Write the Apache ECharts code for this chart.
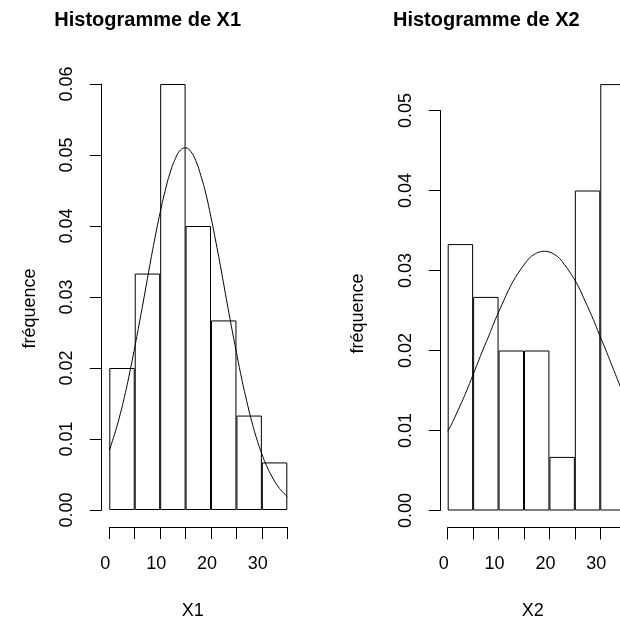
<!DOCTYPE html>
<html>
<head>
<meta charset="utf-8">
<script src="https://cdn.jsdelivr.net/npm/echarts@6/dist/echarts.min.js"></script>
<style>
html,body{margin:0;padding:0;background:#fff;}
#chart{width:620px;height:622px;}
</style>
</head>
<body>
<div id="chart"></div>
<script>
// ---- data ----
const bins = ['0-5', '5-10', '10-15', '15-20', '20-25', '25-30', '30-35'];
const x1Density = [0.0200, 0.0333, 0.0600, 0.0400, 0.0267, 0.0133, 0.0067];
const x2Density = [0.0333, 0.0267, 0.0200, 0.0200, 0.0067, 0.0400, 0.0533];
const curveX = [0,1,2,3,4,5,6,7,8,9,10,11,12,13,14,15,16,17,18,19,20,21,22,23,24,25,26,27,28,29,30,31,32,33,34,35];
const x1Curve = [0.0084,0.0106,0.0131,0.0160,0.0193,0.0229,0.0267,0.0306,0.0346,0.0384,0.0419,0.0450,0.0476,0.0495,0.0507,0.0510,0.0505,0.0492,0.0471,0.0445,0.0412,0.0376,0.0338,0.0298,0.0259,0.0222,0.0186,0.0154,0.0125,0.0100,0.0079,0.0061,0.0047,0.0035,0.0026,0.0019];
const x2Curve = [0.0099,0.0111,0.0125,0.0139,0.0154,0.0170,0.0186,0.0202,0.0217,0.0233,0.0248,0.0262,0.0276,0.0288,0.0298,0.0307,0.0315,0.0320,0.0323,0.0324,0.0323,0.0320,0.0315,0.0307,0.0298,0.0288,0.0276,0.0262,0.0248,0.0233,0.0217,0.0202,0.0186,0.0170,0.0154,0.0139];
const xTickLabels = [0, 10, 20, 30];
const titles = ['Histogramme de X1', 'Histogramme de X2'];
const xNames = ['X1', 'X2'];
const yName = 'fréquence';

const FONT = '"Liberation Sans", Arial, Helvetica, sans-serif';
const black = '#000';

function pairs(xs, ys) { return xs.map((x, i) => [x, ys[i]]); }

const chart = echarts.init(document.getElementById('chart'), null, {renderer: 'canvas'});

function valueX(grid, namePad) {
  return {
    type: 'value', gridIndex: grid, position: 'bottom', min: 0, max: 35, interval: 5,
    offset: 17,
    axisLine: {show: true, onZero: false, lineStyle: {color: black, width: 1}},
    axisTick: {show: true, length: 12, lineStyle: {color: black, width: 1}},
    splitLine: {show: false},
    axisLabel: {
      show: true, margin: 28, fontSize: 18, lineHeight: 18, color: black, fontFamily: FONT,
      padding: [0, 8, 0, 0], showMaxLabel: true, showMinLabel: true,
      formatter: v => xTickLabels.indexOf(v) >= 0 ? String(v) : ''
    },
    name: xNames[grid], nameLocation: 'middle', nameGap: 75,
    nameTextStyle: {fontSize: 18, lineHeight: 18, color: black, fontFamily: FONT, padding: [0, namePad, 0, 0]}
  };
}
function catX(grid) {
  return {type: 'category', gridIndex: grid, position: 'bottom', data: bins, show: false, boundaryGap: true};
}
function valueY(grid, max, offset, nameGap, namePadR) {
  return {
    type: 'value', gridIndex: grid, min: 0, max: max, interval: 0.01, offset: offset,
    axisLine: {show: true, onZero: false, lineStyle: {color: black, width: 1}},
    axisTick: {show: true, length: 12, lineStyle: {color: black, width: 1}},
    splitLine: {show: false},
    axisLabel: {
      rotate: 90, margin: 26, fontSize: 18, lineHeight: 18, color: black, fontFamily: FONT,
      formatter: v => v.toFixed(2)
    },
    name: yName, nameLocation: 'middle', nameGap: nameGap, nameRotate: 90,
    nameTextStyle: {fontSize: 18, lineHeight: 18, color: black, fontFamily: FONT, padding: [0, namePadR, 0, 0]}
  };
}

const option = {
  backgroundColor: '#fff',
  animation: false,
  title: [
    {text: titles[0], left: 147.7, top: 10, textAlign: 'center', padding: 0,
     textStyle: {fontSize: 20, lineHeight: 20, fontWeight: 'bold', color: black, fontFamily: FONT}},
    {text: titles[1], left: 486.3, top: 10, textAlign: 'center', padding: 0,
     textStyle: {fontSize: 20, lineHeight: 20, fontWeight: 'bold', color: black, fontFamily: FONT}}
  ],
  grid: [
    {left: 109.3, top: 84, width: 178, height: 426, containLabel: false, outerBoundsMode: 'none'},
    {left: 447.7, top: 110.5, width: 178, height: 400, containLabel: false, outerBoundsMode: 'none'}
  ],
  xAxis: [catX(0), valueX(0, 11), catX(1), valueX(1, 8)],
  yAxis: [valueY(0, 0.06, 7.6, 63, 23), valueY(1, 0.05, 7, 74, 6)],
  series: [
    {type: 'bar', xAxisIndex: 0, yAxisIndex: 0, data: x1Density, barWidth: '100%', clip: false,
     itemStyle: {color: '#fff', borderColor: black, borderWidth: 1}},
    {type: 'line', xAxisIndex: 1, yAxisIndex: 0, data: pairs(curveX, x1Curve), smooth: true,
     showSymbol: false, symbol: 'none', lineStyle: {color: black, width: 1}, clip: false},
    {type: 'bar', xAxisIndex: 2, yAxisIndex: 1, data: x2Density, barWidth: '100%', clip: false,
     itemStyle: {color: '#fff', borderColor: black, borderWidth: 1}},
    {type: 'line', xAxisIndex: 3, yAxisIndex: 1, data: pairs(curveX, x2Curve), smooth: true,
     showSymbol: false, symbol: 'none', lineStyle: {color: black, width: 1}, clip: false}
  ]
};
chart.setOption(option);
</script>
</body>
</html>
